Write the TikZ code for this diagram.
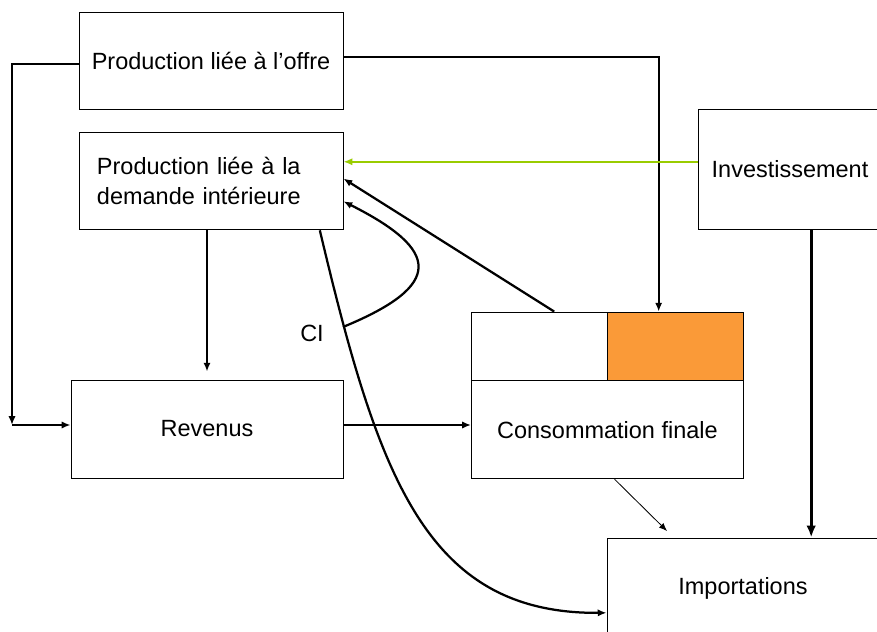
\documentclass[tikz,border=0pt]{standalone}
\usepackage{fontspec}
\setmainfont{Liberation Sans}
\usetikzlibrary{arrows.meta}
\usetikzlibrary{positioning}
\definecolor{flowgreen}{RGB}{153,204,0}
\definecolor{consorange}{RGB}{250,154,56}

\begin{document}
\begin{tikzpicture}[x=0.025cm,y=-0.025cm,
  box/.style={draw,line width=0.6pt,inner sep=0pt,font=\fontsize{16.7}{21.3}\selectfont},
  link/.style={line width=1.6pt,-{Latex[length=2.2mm,width=1.8mm]}},
  biglink/.style={line width=2.4pt,-{Latex[length=3mm,width=2.4mm]}},
  thinlink/.style={line width=0.6pt,-{Latex[length=2mm,width=1.6mm]}}]
\useasboundingbox (0,0) rectangle (877,632);
\clip (0,0) rectangle (877,632);

\node[box,minimum width=6.6cm,minimum height=2.425cm](offre) at (211,60.5){Production liée à l’offre};
\node[box,below=0.575cm of offre,text width=5.7cm,inner xsep=0.45cm,minimum height=2.425cm,align=left](demande){Production liée à la\\demande intérieure};
\node[box,minimum width=4.6cm,minimum height=3cm](invest) at (790,169){Investissement};
\node[box,minimum width=6.8cm,minimum height=2.45cm](revenus) at (207,429){Revenus};

% consommation: deux cases au-dessus
\node[box,minimum width=3.4cm,minimum height=1.7cm](ltop) at (539,346){};
\node[box,fill=consorange,minimum width=3.4cm,minimum height=1.7cm,right=0pt of ltop](rtop){};
\node[box,minimum width=6.8cm,minimum height=2.45cm,below=0pt of ltop.south east](conso){Consommation finale};

\node[box,minimum width=6.8cm,minimum height=2.5cm](import) at (743,588){Importations};
\node[font=\fontsize{16.7}{21.3}\selectfont](ci) at (312,333){CI};

\coordinate (lcorner) at (12,425);
\coordinate (cistart) at (343,327);
\coordinate (thinend) at (667,531);

\draw[link] ([yshift=-0.08cm]offre.west) -| (lcorner);
\draw[link] (lcorner) -- (lcorner -| revenus.west);
\draw[link] ([yshift=0.09cm]offre.east) -| ([xshift=-0.43cm]rtop.north);
\draw[link,flowgreen] ([yshift=0.18cm]invest.west) -- ([yshift=0.18cm]invest.west -| demande.east);
\draw[biglink] ([xshift=0.53cm]invest.south) -- ([xshift=0.53cm]invest.south |- import.north);
\draw[link,shorten >=0.2cm] (revenus.north |- demande.south) -- (revenus.north);
\draw[link] ([yshift=0.1cm]revenus.east) -- ([yshift=0.1cm]revenus.east -| conso.west);
\draw[link] ([xshift=0.38cm]ltop.north) -- ([yshift=0.07cm]demande.east);
\draw[link] (cistart) .. controls (445,285) and (440,250) .. ([yshift=-0.5cm]demande.east);
\draw[link] ([xshift=2.72cm]demande.south) .. controls (378,475) and (425,614) .. ([yshift=-0.62cm]import.west);
\draw[thinlink] ([xshift=0.18cm]conso.south) -- (thinend);

\end{tikzpicture}
\end{document}
